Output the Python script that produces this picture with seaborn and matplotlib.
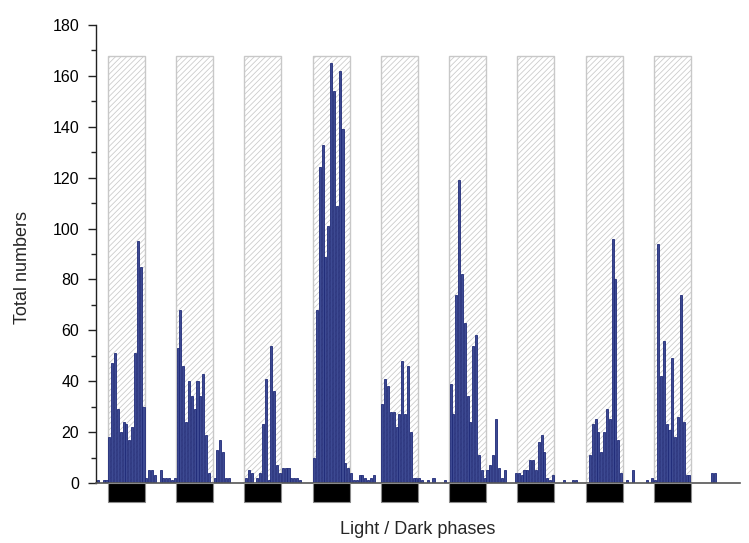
import numpy as np
import pandas as pd
import matplotlib
matplotlib.use("Agg")
import matplotlib.pyplot as plt
from matplotlib.patches import Rectangle
from matplotlib.ticker import MultipleLocator
import seaborn as sns

# ---- data (hourly counts) ----
pre_light = [1, 0, 1, 1]
dark_1 = [18, 47, 51, 29, 20, 24, 23, 17, 22, 51, 95, 85, 30]
light_1 = [2, 5, 5, 3, 0, 5, 2, 2, 2, 1, 2]
dark_2 = [53, 68, 46, 24, 40, 34, 29, 40, 34, 43, 19, 4, 0]
light_2 = [2, 13, 17, 12, 2, 2, 0, 0, 0, 0, 0]
dark_3 = [2, 5, 4, 0, 2, 4, 23, 41, 1, 54, 36, 7, 4]
light_3 = [6, 6, 6, 2, 2, 2, 1, 0, 0, 0, 0]
dark_4 = [10, 68, 124, 133, 89, 101, 165, 154, 109, 162, 139, 8, 6]
light_4 = [4, 1, 1, 3, 3, 2, 1, 2, 3, 0, 0]
dark_5 = [31, 41, 38, 28, 28, 22, 27, 48, 27, 46, 20, 2, 2]
light_5 = [2, 1, 0, 1, 0, 2, 0, 0, 0, 1, 0]
dark_6 = [39, 27, 74, 119, 82, 63, 34, 24, 54, 58, 11, 5, 2]
light_6 = [5, 7, 11, 25, 6, 2, 5, 0, 0, 0, 4]
dark_7 = [4, 3, 5, 5, 9, 9, 5, 16, 19, 12, 2, 1, 3]
light_7 = [0, 0, 0, 1, 0, 0, 1, 1, 0, 0, 0]
dark_8 = [0, 11, 23, 25, 20, 12, 20, 29, 25, 96, 80, 17, 4]
light_8 = [0, 1, 0, 5, 0, 0, 0, 0, 1, 0, 2]
dark_9 = [1, 94, 42, 56, 23, 21, 49, 18, 26, 74, 24, 3, 3]
light_9 = [0, 0, 0, 0, 0, 0, 0, 4, 4, 0, 0]

darks = [dark_1, dark_2, dark_3, dark_4, dark_5, dark_6, dark_7, dark_8, dark_9]
lights = [light_1, light_2, light_3, light_4, light_5, light_6, light_7, light_8, light_9]

counts = list(pre_light)
dark_starts = []
for d, l in zip(darks, lights):
    dark_starts.append(len(counts))
    counts += d + l
hours = np.arange(len(counts))
dark_len = len(dark_1)
dark_box_top = 168

# ---- style ----
sns.set_theme(style="ticks")
plt.rcParams['font.family'] = ['Liberation Sans', 'DejaVu Sans']
plt.rcParams['hatch.linewidth'] = 0.55

fig = plt.figure(figsize=(7.49, 5.43), dpi=100)
ax = fig.add_axes([96 / 749, 60 / 543, 644 / 749, 458 / 543])

for s in dark_starts:
    ax.add_patch(Rectangle((s - 0.5, 0), dark_len, dark_box_top, facecolor='white',
                           edgecolor='#c8c8c8', hatch='//////', lw=1.0, zorder=1))
    ax.add_patch(Rectangle((s - 0.5, -7.3), dark_len, 7.3, facecolor='black',
                           edgecolor='#8a8a8a', lw=0.8, clip_on=False, zorder=4))

df = pd.DataFrame({'hour': hours, 'count': counts})
sns.barplot(data=df, x='hour', y='count', native_scale=True, width=0.72,
            color='#3d4a92', saturation=1, edgecolor='#1f2a78', linewidth=0.6,
            errorbar=None, ax=ax, zorder=2)

ax.set_xlim(-0.7, 225.8)
ax.set_ylim(0, 180)
ax.yaxis.set_major_locator(MultipleLocator(20))
ax.yaxis.set_minor_locator(MultipleLocator(10))
ax.tick_params(axis='y', which='major', length=6, width=1, pad=6, labelsize=11.5,
               colors='#222222', labelcolor='black')
ax.tick_params(axis='y', which='minor', length=3.5, width=1, colors='#222222')
ax.tick_params(axis='x', which='both', length=0, labelbottom=False)
sns.despine(ax=ax)
ax.spines['left'].set_color('#222222')
ax.spines['bottom'].set_color('#555555')
ax.spines['left'].set_linewidth(1)
ax.spines['bottom'].set_linewidth(1.2)
ax.set_xlabel('Light / Dark phases', fontsize=13)
ax.set_ylabel('Total numbers', fontsize=13)
ax.xaxis.set_label_coords(0.5, -47 / 458, transform=ax.transAxes)
ax.xaxis.label.set_va('center')
ax.yaxis.set_label_coords(-74 / 644, 216 / 458, transform=ax.transAxes)
ax.yaxis.label.set_va('center')

fig.savefig('out.png', dpi=100)
